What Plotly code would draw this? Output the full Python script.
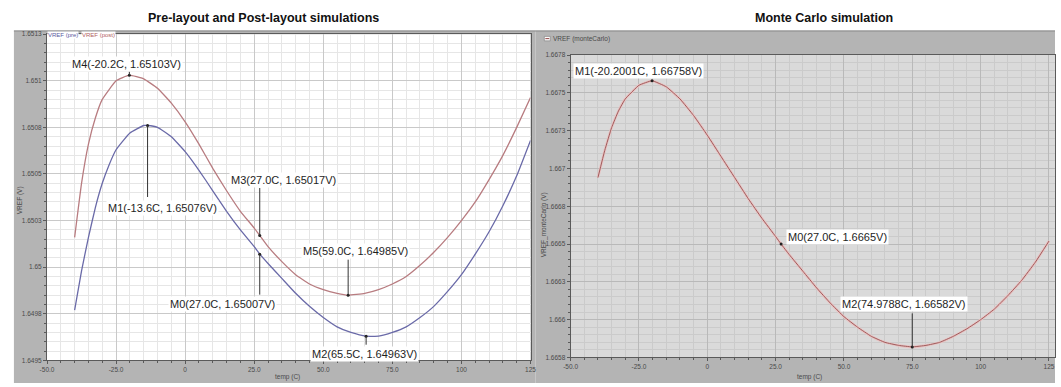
import plotly.graph_objects as go

W, H = 1061, 387

# ---- pre-layout / post-layout sweeps: temperature (C) vs VREF (V) ----
temp_pre = [-40, -37.5, -35, -32.5, -30, -27.5, -25, -20, -15, -13.6, -10, -5, 0, 5, 10, 15, 20,
            25, 27, 30, 35, 40, 45, 50, 55, 60, 65.5, 70, 75, 80, 85, 90, 95, 100, 105, 110, 115,
            120, 125]
vref_pre = [1.64977, 1.64998, 1.65016, 1.65032, 1.65045, 1.65055, 1.65063, 1.65072, 1.65076,
            1.65076, 1.65075, 1.65070, 1.65062, 1.65052, 1.65041, 1.65030, 1.65020, 1.65011,
            1.65007, 1.65002, 1.64994, 1.64986, 1.64979, 1.64973, 1.64968, 1.64965, 1.64963,
            1.64963, 1.64965, 1.64968, 1.64973, 1.64979, 1.64987, 1.64996, 1.65007, 1.65019,
            1.65033, 1.65049, 1.65068]

temp_post = [-40, -37.5, -35, -32.5, -30, -25, -20.2, -15, -10, -5, 0, 5, 10, 15, 20, 25, 27, 30,
             35, 40, 45, 50, 55, 59.0, 65, 70, 75, 80, 85, 90, 95, 100, 105, 110, 115, 120, 125]
vref_post = [1.65016, 1.65045, 1.65066, 1.65080, 1.65090, 1.65100, 1.65103, 1.65101, 1.65096,
             1.65088, 1.65078, 1.65066, 1.65053, 1.65041, 1.65030, 1.65021, 1.65017, 1.65011,
             1.65003, 1.64996, 1.64991, 1.64988, 1.64986, 1.64985, 1.64986, 1.64988, 1.64991,
             1.64995, 1.65001, 1.65008, 1.65016, 1.65025, 1.65035, 1.65047, 1.65060, 1.65075,
             1.65091]

# ---- Monte Carlo sweep ----
temp_mc = [-40, -37.5, -35, -32.5, -30, -25, -20.2001, -15, -10, -5, 0, 5, 10, 15, 20, 25, 27.0,
           30, 35, 40, 45, 50, 55, 60, 65, 70, 74.9788, 80, 85, 90, 95, 100, 105, 110, 115, 120,
           125]
vref_mc = [1.66694, 1.66712, 1.66727, 1.66738, 1.66746, 1.66755, 1.66758, 1.66754, 1.66746,
           1.66735, 1.66722, 1.66708, 1.66694, 1.66680, 1.66667, 1.66655, 1.66650, 1.66643,
           1.66632, 1.66621, 1.66611, 1.66602, 1.66595, 1.66589, 1.66585, 1.66583, 1.66582,
           1.66583, 1.66585, 1.66589, 1.66594, 1.66600, 1.66607, 1.66616, 1.66626, 1.66638,
           1.66652]

# ---- markers ----
mk_left_name = ["M4", "M1", "M3", "M0", "M5", "M2"]
mk_left_temp = [-20.2, -13.6, 27.0, 27.0, 59.0, 65.5]
mk_left_vref = [1.65103, 1.65076, 1.65017, 1.65007, 1.64985, 1.64963]

mk_mc_name = ["M1", "M0", "M2"]
mk_mc_temp = [-20.2001, 27.0, 74.9788]
mk_mc_vref = [1.66758, 1.6665, 1.66582]

# ---- axis ticks ----
x_ticks = [-50, -25, 0, 25, 50, 75, 100, 125]
x_ticktext = ["-50.0", "-25.0", "0", "25.0", "50.0", "75.0", "100", "125"]
y_ticks_left = [1.6495, 1.64975, 1.65, 1.65025, 1.6505, 1.65075, 1.651, 1.65125]
y_ticktext_left = ["1.6495", "1.6498", "1.65", "1.6503", "1.6505", "1.6508", "1.651", "1.6513"]
y_ticks_mc = [1.66575, 1.666, 1.66625, 1.6665, 1.66675, 1.667, 1.66725, 1.6675, 1.66775]
y_ticktext_mc = ["1.6658", "1.666", "1.6663", "1.6665", "1.6668", "1.667", "1.6673", "1.6675",
                 "1.6678"]

# ---- styling / layout geometry (pixels) ----
C_PRE = "#6a6aa8"
C_POST = "#b87c80"
C_MC = "#9e5c5c"
PANEL = "#b4b4b4"
FONT = "Liberation Sans"

def px(x):
    return x / W

def py(y):
    return 1 - y / H

L_DOM_X = [px(40.5), px(530)]
L_DOM_Y = [py(363), py(30.7)]
R_DOM_X = [px(570.6), 1.0]
R_DOM_Y = [py(360), py(52)]

fig = go.Figure()

curve = dict(shape="spline", smoothing=0.35)
fig.add_trace(go.Scatter(x=temp_pre, y=vref_pre, mode="lines", line=dict(color=C_PRE, width=1.3, **curve),
                         xaxis="x", yaxis="y", hoverinfo="skip"))
fig.add_trace(go.Scatter(x=temp_post, y=vref_post, mode="lines", line=dict(color=C_POST, width=1.3, **curve),
                         xaxis="x", yaxis="y", hoverinfo="skip"))
fig.add_trace(go.Scatter(x=temp_mc, y=vref_mc, mode="lines", line=dict(color="#e8c2c2", width=2.6, **curve),
                         xaxis="x2", yaxis="y2", hoverinfo="skip"))
fig.add_trace(go.Scatter(x=temp_mc, y=vref_mc, mode="lines", line=dict(color=C_MC, width=1.0, **curve),
                         xaxis="x2", yaxis="y2", hoverinfo="skip"))
fig.add_trace(go.Scatter(x=mk_left_temp, y=mk_left_vref, mode="markers",
                         marker=dict(color="#222", size=3), xaxis="x", yaxis="y", hoverinfo="skip"))
fig.add_trace(go.Scatter(x=mk_mc_temp, y=mk_mc_vref, mode="markers",
                         marker=dict(color="#222", size=3), xaxis="x2", yaxis="y2", hoverinfo="skip"))

def axis_common(dom, rng, tickvals, ticktext, minor_dtick, minor_tick0, grid, minor_grid, anchor):
    return dict(domain=dom, range=rng, tickmode="array", tickvals=tickvals, ticktext=ticktext,
                showgrid=True, gridcolor=grid, gridwidth=1, zeroline=False,
                showline=True, linecolor="#5a5a5a", linewidth=1, mirror=True,
                ticks="outside", ticklen=3, tickcolor="#5a5a5a",
                tickfont=dict(family=FONT, size=6.5, color="#4a4a4a"),
                minor=dict(dtick=minor_dtick, tick0=minor_tick0, showgrid=True, gridcolor=minor_grid,
                           ticks="outside", ticklen=2, tickcolor="#5a5a5a"),
                anchor=anchor, fixedrange=True)

fig.update_layout(
    width=W, height=H, margin=dict(l=0, r=0, t=0, b=0),
    paper_bgcolor="white", plot_bgcolor="rgba(0,0,0,0)", showlegend=False,
    xaxis=axis_common(L_DOM_X, [-50, 125], x_ticks, x_ticktext, 5, -50, "#c9c9c9", "#e6e6e6", "y"),
    yaxis=axis_common(L_DOM_Y, [1.6495, 1.65125], y_ticks_left, y_ticktext_left, 0.00005, 1.6495,
                      "#c9c9c9", "#e6e6e6", "x"),
    xaxis2=axis_common(R_DOM_X, [-50, 127.2], x_ticks, x_ticktext, 5, -50, "#b9b9b9", "#cbcbcb", "y2"),
    yaxis2=axis_common(R_DOM_Y, [1.66575, 1.66775], y_ticks_mc, y_ticktext_mc, 0.00005, 1.66575,
                       "#b9b9b9", "#cbcbcb", "x2"),
)

# panel frames and plot-area backgrounds
shapes = [
    dict(type="rect", xref="paper", yref="paper", x0=px(7), x1=px(535), y0=py(386), y1=py(27),
         fillcolor=PANEL, line=dict(width=0), layer="below"),
    dict(type="rect", xref="paper", yref="paper", x0=px(535), x1=1.0, y0=py(386), y1=py(27),
         fillcolor=PANEL, line=dict(width=0), layer="below"),
    dict(type="line", xref="paper", yref="paper", x0=px(7), x1=px(1061), y0=py(27.5), y1=py(27.5),
         line=dict(color="#8a8a8a", width=1), layer="below"),
    dict(type="rect", xref="paper", yref="paper", x0=L_DOM_X[0], x1=L_DOM_X[1], y0=L_DOM_Y[0], y1=L_DOM_Y[1],
         fillcolor="white", line=dict(width=0), layer="below"),
    dict(type="rect", xref="paper", yref="paper", x0=R_DOM_X[0], x1=R_DOM_X[1], y0=R_DOM_Y[0], y1=R_DOM_Y[1],
         fillcolor="#dadada", line=dict(width=0), layer="below"),
    # legend icon for the Monte Carlo trace
    dict(type="rect", xref="paper", yref="paper", x0=px(544), x1=px(550), y0=py(37.5), y1=py(33),
         fillcolor="white", line=dict(color="#777", width=0.6)),
    dict(type="line", xref="paper", yref="paper", x0=px(545), x1=px(549), y0=py(35.2), y1=py(35.2),
         line=dict(color=C_MC, width=1.2)),
]
fig.update_layout(shapes=shapes)

ann = []

def paper_text(text, x, y, font, **kw):
    d = dict(text=text, x=px(x), y=py(y), xref="paper", yref="paper", showarrow=False,
             xanchor="center", yanchor="middle", font=font)
    d.update(kw)
    return d

# titles
title_font = dict(family=FONT, size=12.5, color="#111")
ann.append(paper_text("<b>Pre-layout and Post-layout simulations</b>", 260, 14, title_font))
ann.append(paper_text("<b>Monte Carlo simulation</b>", 827, 14, title_font))

# axis titles
small = dict(family=FONT, size=6.5, color="#4a4a4a")
ann.append(paper_text("temp (C)", 284, 380, small))
ann.append(paper_text("temp (C)", 812, 380, small))
ann.append(paper_text("VREF (V)", 14, 200, small, textangle=-90))
ann.append(paper_text("VREF_monteCarlo (V)", 544, 225, small, textangle=-90))

# legend tabs
ann.append(paper_text("VREF (pre)", 40, 32, dict(family=FONT, size=6, color="#5a5aa0"),
                      xanchor="left", bgcolor="white", borderpad=0))
ann.append(paper_text("VREF (post)", 75, 32, dict(family=FONT, size=6, color="#b06060"),
                      xanchor="left", bgcolor="white", borderpad=0))
ann.append(paper_text("VREF (monteCarlo)", 551, 35.5, dict(family=FONT, size=6.5, color="#4a4a4a"),
                      xanchor="left"))

# marker labels: (text dx, text dy, leader line dy) in pixels relative to the marked point
label_font = dict(family=FONT, size=11, color="#1e1e1e")
left_offsets = [(-3, -11, -5), (15, 82, 73), (24, -56, -49), (-37, 50, 42), (7, -44, -37), (-2, 18, 10)]
for name, t, v, (dx, dy, ly) in zip(mk_left_name, mk_left_temp, mk_left_vref, left_offsets):
    ann.append(dict(x=t, y=v, xref="x", yref="y", text="", showarrow=True, ax=0, ay=ly,
                    arrowhead=0, arrowwidth=1, arrowcolor="#333"))
    ann.append(dict(x=t, y=v, xref="x", yref="y", text=f"{name}({t}C, {v}V)", showarrow=False,
                    xanchor="center", yanchor="middle",
                    xshift=dx, yshift=-dy, font=label_font, bgcolor="white", borderpad=1))

mc_offsets = [(-14, -10, 0), (56, -7, 0), (-8, -43, -35)]
for name, t, v, (dx, dy, ly) in zip(mk_mc_name, mk_mc_temp, mk_mc_vref, mc_offsets):
    if ly:
        ann.append(dict(x=t, y=v, xref="x2", yref="y2", text="", showarrow=True, ax=0, ay=ly,
                        arrowhead=0, arrowwidth=1, arrowcolor="#333"))
    ann.append(dict(x=t, y=v, xref="x2", yref="y2", text=f"{name}({t}C, {v}V)", showarrow=False,
                    xanchor="center", yanchor="middle",
                    xshift=dx, yshift=-dy, font=label_font, bgcolor="white", borderpad=1))

fig.update_layout(annotations=ann)

fig.write_html("out.html")
